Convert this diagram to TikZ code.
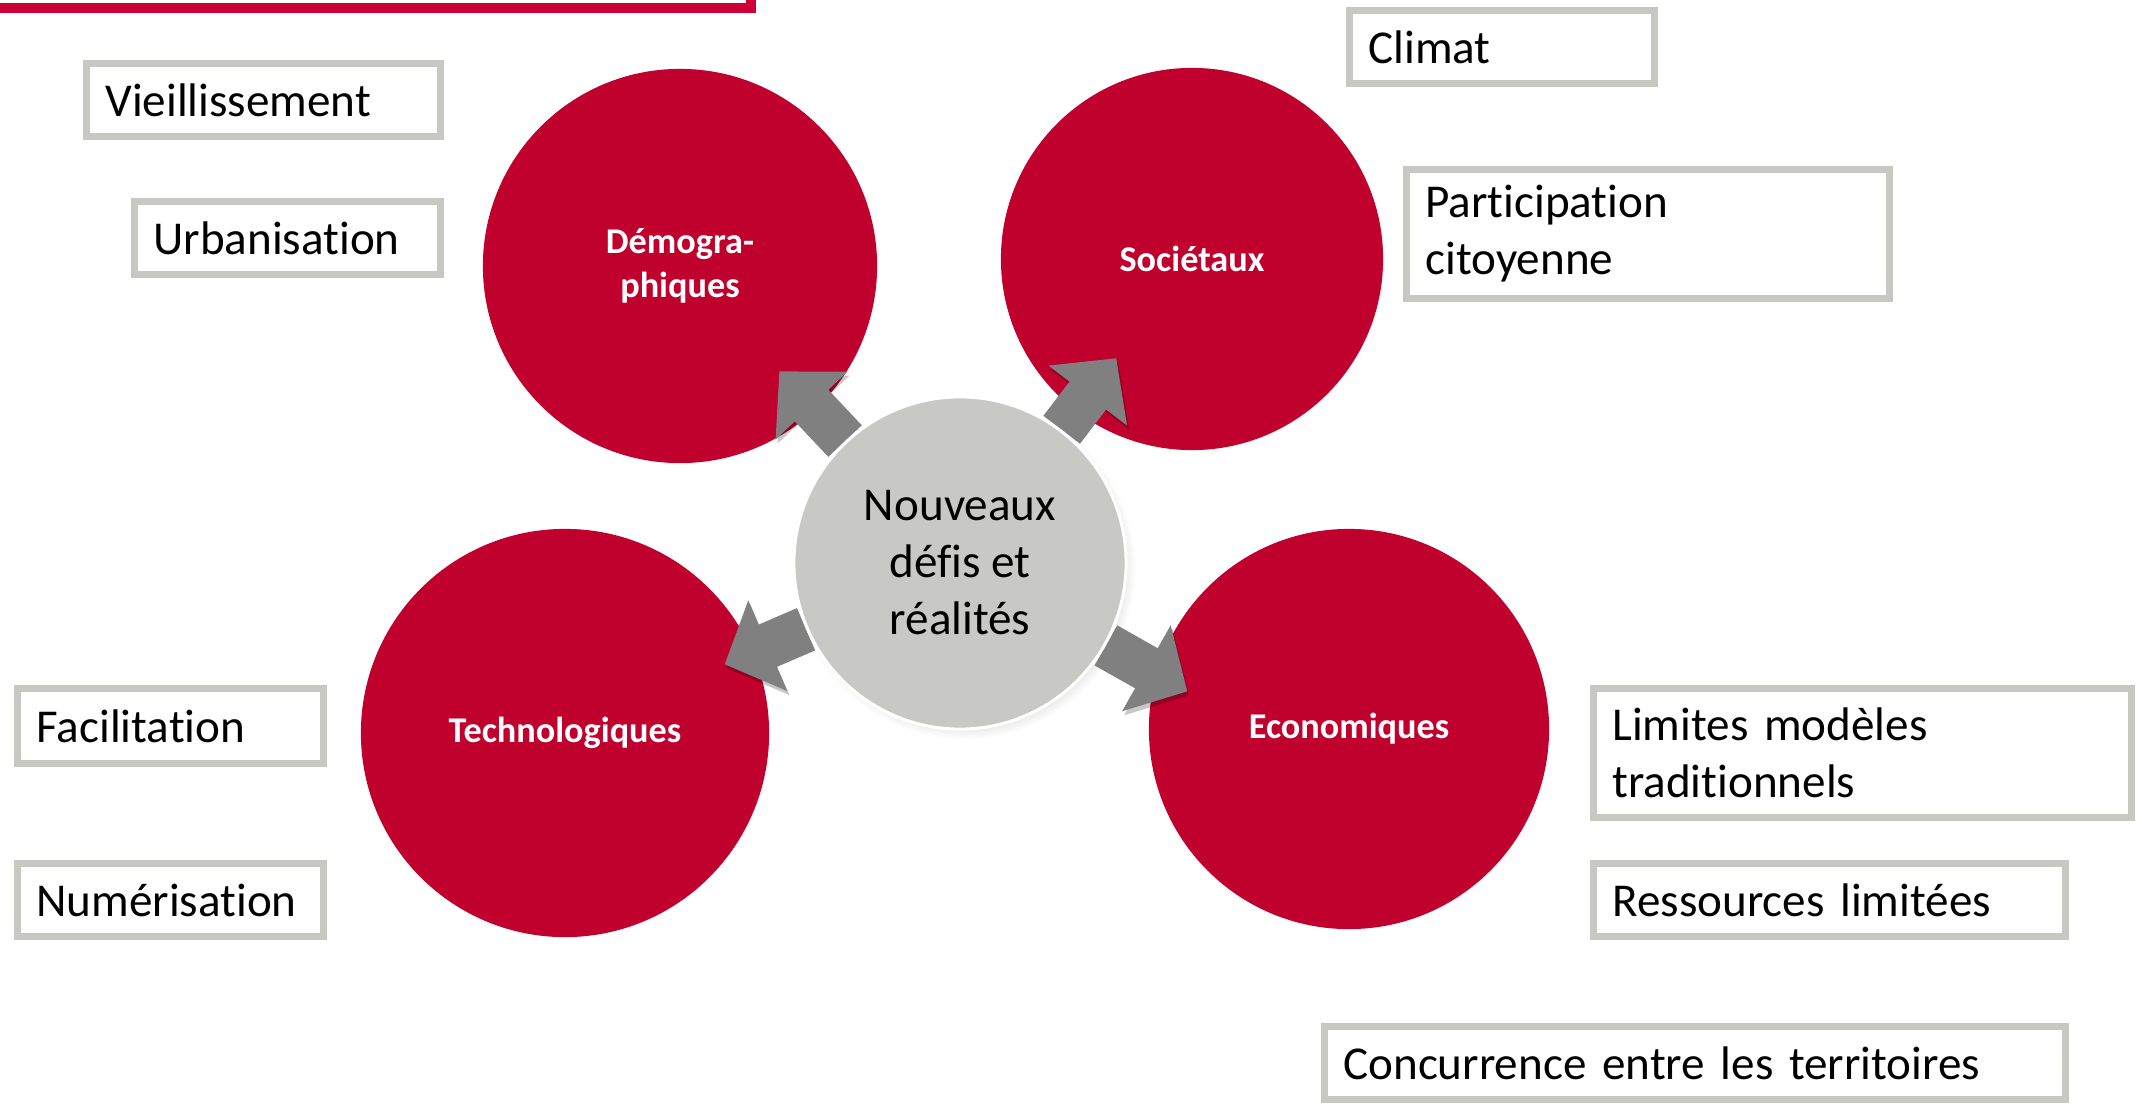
\documentclass[tikz,border=0pt]{standalone}
\usepackage{fontspec}
\setmainfont{Carlito}[Ligatures=NoCommon]
\usetikzlibrary{arrows.meta,shadows}
\pgfdeclarelayer{back}
\pgfdeclarelayer{mid}
\pgfsetlayers{back,mid,main}

\begin{document}
\begin{tikzpicture}[x=0.01cm,y=-0.01cm,
  defi/.style={circle,fill=cardinal,text=white,align=center,font=\fontsize{10.3}{12.4}\selectfont\bfseries},
  facteur/.style={draw=pebble,line width=0.07cm,fill=white,align=left,inner xsep=0.19cm,inner ysep=0pt,font=\fontsize{13.4}{16.2}\selectfont},
  poussee/.style={draw=steel,line width=0.46cm,-{Triangle[width=0.96cm,length=0.47cm]},
    preaction={draw=black,opacity=.22,transform canvas={shift={(0.02cm,-0.04cm)}}}}]
\definecolor{cardinal}{HTML}{C0002D}
\definecolor{topred}{HTML}{CC0035}
\definecolor{pebble}{HTML}{C8C8C3}
\definecolor{steel}{HTML}{808080}
\definecolor{mortar}{HTML}{C8C8C4}
\useasboundingbox (0,0) rectangle (2136,1106);
% frame cut by the page top
\draw[topred,line width=0.1cm] (-20,-100) rectangle (751,8);
% the four families of challenges
\begin{pgfonlayer}{back}
  \foreach \nm/\x/\y/\sz/\txt in {demo/680/266/3.94/{Démogra-\\phiques},soc/1192/259/3.82/Sociétaux,tech/565/733/4.08/Technologiques,econ/1349/729/4.00/Economiques}
  {  \node [defi,minimum size=\sz cm] (\nm) at (\x,\y) {\txt};}
\end{pgfonlayer}
\node [circle,fill=mortar,draw=white,line width=0.03cm,minimum size=3.32cm,align=center,
  circular drop shadow={shadow xshift=0.04cm,shadow yshift=-0.05cm,shadow scale=1.03,opacity=.35},
  font=\fontsize{13.4}{16.2}\selectfont] (ctr) at (960,563) {Nouveaux\\défis et\\réalités};
\begin{pgfonlayer}{mid}
  \foreach \tgt/\ext in {demo/0.53,soc/0.67,tech/0.31,econ.164/0.36}
  {  \draw [poussee,shorten >=-\ext cm] (ctr) -- (\tgt);}
\end{pgfonlayer}
% factors
\foreach \nm/\x/\y/\tw/\mh/\txt in {vieil/263.5/100/3.16/0.73/Vieillissement,urban/287.5/238/2.68/0.73/Urbanisation,
  climat/1502/47/2.67/0.73/Climat,partic/1648/234/4.45/1.29/{Participation\\citoyenne},
  facil/170.5/726/2.68/0.75/Facilitation,numer/170.5/900/2.68/0.73/Numérisation,
  limit/1862.5/753/5.00/1.29/{Limites modèles\\traditionnels},ressou/1829.5/900/4.34/0.73/Ressources limitées,
  concur/1695/1063/7.03/0.73/Concurrence entre les territoires}
{  \node [facteur,text width=\tw cm,minimum height=\mh cm] (\nm) at (\x,\y) {\txt};}
\end{tikzpicture}
\end{document}
